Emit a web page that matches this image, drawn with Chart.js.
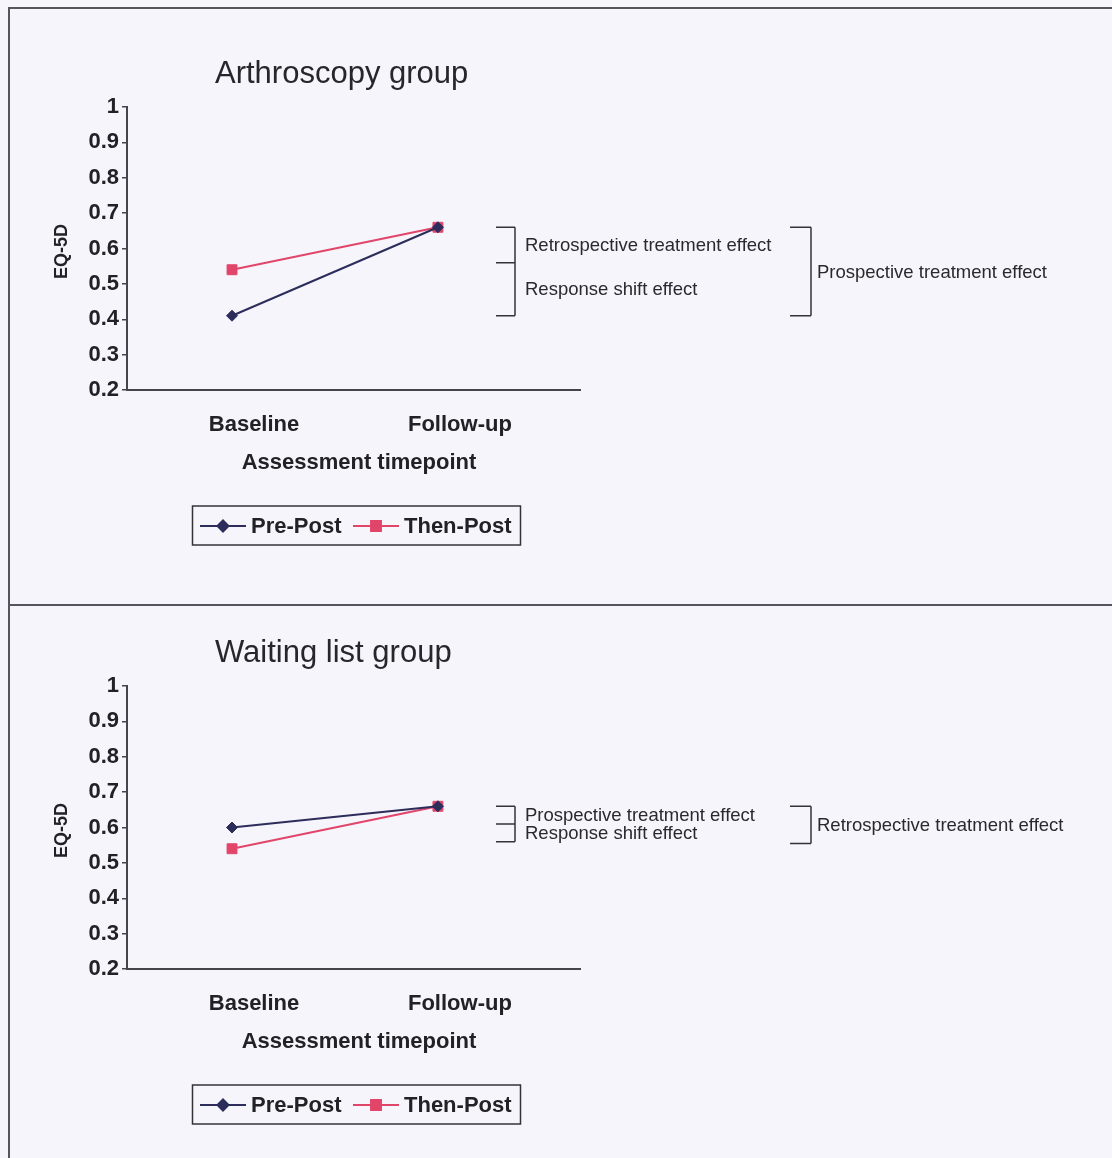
<!DOCTYPE html>
<html>
<head>
<meta charset="utf-8">
<script src="https://cdn.jsdelivr.net/npm/chart.js@4.4.1/dist/chart.umd.min.js"></script>
<style>
  html, body { margin: 0; padding: 0; background: #f5f5fb; }
  body { width: 1112px; height: 1158px; position: relative; overflow: hidden; }
  .panel { position: absolute; left: 0; width: 1112px; height: 579px; }
  .frame { position: absolute; background: #55555f; }
</style>
</head>
<body>
<div class="frame" style="left:8px;top:7px;width:1104px;height:2px;"></div>
<div class="frame" style="left:8px;top:7px;width:2px;height:1151px;"></div>
<div class="frame" style="left:8px;top:604px;width:1104px;height:2px;"></div>
<div class="panel" style="top:0px;"><canvas id="c1" width="1112" height="579"></canvas></div>
<div class="panel" style="top:579px;"><canvas id="c2" width="1112" height="579"></canvas></div>
<script>
// ---- data ----
const categories = ['Baseline', 'Follow-up'];
const seriesNames = ['Pre-Post', 'Then-Post'];
const arthroPrePost = [0.41, 0.66];
const arthroThenPost = [0.54, 0.66];
const waitPrePost = [0.60, 0.66];
const waitThenPost = [0.54, 0.66];
const yTickValues = [0.2, 0.3, 0.4, 0.5, 0.6, 0.7, 0.8, 0.9, 1.0];
const yTickLabels = ['0.2', '0.3', '0.4', '0.5', '0.6', '0.7', '0.8', '0.9', '1'];
const panelTitles = ['Arthroscopy group', 'Waiting list group'];
const yAxisTitle = 'EQ-5D';
const xAxisTitle = 'Assessment timepoint';
// bracket annotations (levels, in EQ-5D units)
const arthroInnerLevels = [0.66, 0.56, 0.41];
const arthroInnerLabels = ['Retrospective treatment effect', 'Response shift effect'];
const arthroOuterLevels = [0.66, 0.41];
const arthroOuterLabel = 'Prospective treatment effect';
const waitInnerLevels = [0.66, 0.61, 0.56];
const waitInnerLabels = ['Prospective treatment effect', 'Response shift effect'];
const waitOuterLevels = [0.66, 0.555];
const waitOuterLabel = 'Retrospective treatment effect';

const NAVY = '#2d2d5c';
const PINK = '#e2456a';
const AXIS = '#44444c';
const TXT = '#222226';
const FONT = '"Liberation Sans", Arial, sans-serif';

function toPoints(arr) { return arr.map((v, i) => ({ x: i, y: v })); }

function annotPlugin(title, inner, innerLabels, outer, outerLabel) {
  return {
    id: 'annot',
    afterDraw(chart) {
      const ctx = chart.ctx;
      const ca = chart.chartArea;
      const ys = chart.scales.y;
      ctx.save();
      // title
      ctx.fillStyle = '#26262b';
      ctx.font = '31px ' + FONT;
      ctx.textAlign = 'left';
      ctx.textBaseline = 'middle';
      ctx.fillText(title, 215, ca.top - 33);
      // y title
      ctx.save();
      ctx.translate(62, (ca.top + ca.bottom) / 2 + 3);
      ctx.rotate(-Math.PI / 2);
      ctx.font = 'bold 18px ' + FONT;
      ctx.textAlign = 'center';
      ctx.fillStyle = TXT;
      ctx.fillText(yAxisTitle, 0, 0);
      ctx.restore();
      // x title
      ctx.font = 'bold 22px ' + FONT;
      ctx.textAlign = 'center';
      ctx.fillStyle = TXT;
      ctx.fillText(xAxisTitle, 359, ca.bottom + 73);
      // legend
      const ly = ca.bottom + 136;
      ctx.strokeStyle = '#333338';
      ctx.lineWidth = 1.5;
      ctx.strokeRect(192.5, ly - 20, 328, 39);
      const ds = chart.data.datasets;
      const items = [{ x0: 200, x1: 246, tx: 251 }, { x0: 353, x1: 399, tx: 404 }];
      ds.forEach((d, i) => {
        const it = items[i];
        ctx.strokeStyle = d.borderColor;
        ctx.lineWidth = 2;
        ctx.beginPath(); ctx.moveTo(it.x0, ly); ctx.lineTo(it.x1, ly); ctx.stroke();
        Chart.helpers.drawPoint(ctx, { pointStyle: d.pointStyle, radius: d.pointRadius, borderWidth: 1, rotation: 0 }, (it.x0 + it.x1) / 2, ly);
        ctx.fillStyle = d.borderColor;
        ctx.fill();
        ctx.fillStyle = TXT;
        ctx.font = 'bold 22px ' + FONT;
        ctx.textAlign = 'left';
        ctx.fillText(d.label, it.tx, ly + 1);
      });
      // brackets
      ctx.strokeStyle = '#333338';
      ctx.lineWidth = 1.5;
      ctx.fillStyle = '#2a2a2e';
      ctx.font = '18.5px ' + FONT;
      ctx.textAlign = 'left';
      const ix0 = ca.right - 84, ix1 = ca.right - 65;
      const ip = inner.map(v => ys.getPixelForValue(v));
      ctx.beginPath();
      ip.forEach(p => { ctx.moveTo(ix0, p); ctx.lineTo(ix1, p); });
      ctx.moveTo(ix1, ip[0]); ctx.lineTo(ix1, ip[ip.length - 1]);
      ctx.stroke();
      innerLabels.forEach((t, i) => {
        const mid = (ip[i] + ip[i + 1]) / 2;
        ctx.fillText(t, ix1 + 10, mid + 1);
      });
      const ox0 = ca.right + 210, ox1 = ca.right + 231;
      const op = outer.map(v => ys.getPixelForValue(v));
      ctx.beginPath();
      op.forEach(p => { ctx.moveTo(ox0, p); ctx.lineTo(ox1, p); });
      ctx.moveTo(ox1, op[0]); ctx.lineTo(ox1, op[op.length - 1]);
      ctx.stroke();
      ctx.fillText(outerLabel, ox1 + 6, (op[0] + op[1]) / 2 + 1);
      ctx.restore();
    }
  };
}

function makeChart(id, prePost, thenPost, title, inner, innerLabels, outer, outerLabel) {
  return new Chart(document.getElementById(id), {
    type: 'line',
    data: {
      datasets: [
        { label: seriesNames[0], data: toPoints(prePost), borderColor: NAVY, backgroundColor: NAVY,
          borderWidth: 2, pointStyle: 'rectRot', pointRadius: 5.5, pointBackgroundColor: NAVY,
          pointBorderColor: NAVY, pointBorderWidth: 1 },
        { label: seriesNames[1], data: toPoints(thenPost), borderColor: PINK, backgroundColor: PINK,
          borderWidth: 2, pointStyle: 'rect', pointRadius: 7, pointBackgroundColor: PINK,
          pointBorderColor: PINK, pointBorderWidth: 1 }
      ]
    },
    options: {
      responsive: false,
      animation: false,
      layout: { padding: { left: 0, top: 107, right: 532, bottom: 119 } },
      plugins: { legend: { display: false }, title: { display: false }, tooltip: { enabled: false } },
      scales: {
        x: {
          type: 'linear',
          min: -0.51, max: 1.69,
          grid: { display: false, drawTicks: false },
          border: { display: true, color: AXIS, width: 2 },
          afterBuildTicks: (axis) => { axis.ticks = categories.map((c, i) => ({ value: i })); },
          afterFit: (axis) => { axis.height = 70; },
          ticks: {
            callback: (v) => categories[v],
            font: { family: FONT, size: 22, weight: 'bold' },
            color: TXT, padding: 22, labelOffset: 22, maxRotation: 0, autoSkip: false
          }
        },
        y: {
          type: 'linear',
          min: 0.2, max: 1,
          grid: { display: true, drawOnChartArea: false, drawTicks: true, tickLength: 5, color: AXIS, lineWidth: 1.5 },
          border: { display: true, color: AXIS, width: 2 },
          afterBuildTicks: (axis) => { axis.ticks = yTickValues.map(v => ({ value: v })); },
          afterFit: (axis) => { axis.width = 127; },
          ticks: {
            callback: (v) => { const i = yTickValues.findIndex(t => Math.abs(t - v) < 1e-6); return i >= 0 ? yTickLabels[i] : ''; },
            font: { family: FONT, size: 22, weight: 'bold' },
            color: TXT, padding: 3
          }
        }
      }
    },
    plugins: [annotPlugin(title, inner, innerLabels, outer, outerLabel)]
  });
}

makeChart('c1', arthroPrePost, arthroThenPost, panelTitles[0], arthroInnerLevels, arthroInnerLabels, arthroOuterLevels, arthroOuterLabel);
makeChart('c2', waitPrePost, waitThenPost, panelTitles[1], waitInnerLevels, waitInnerLabels, waitOuterLevels, waitOuterLabel);
</script>
</body>
</html>
